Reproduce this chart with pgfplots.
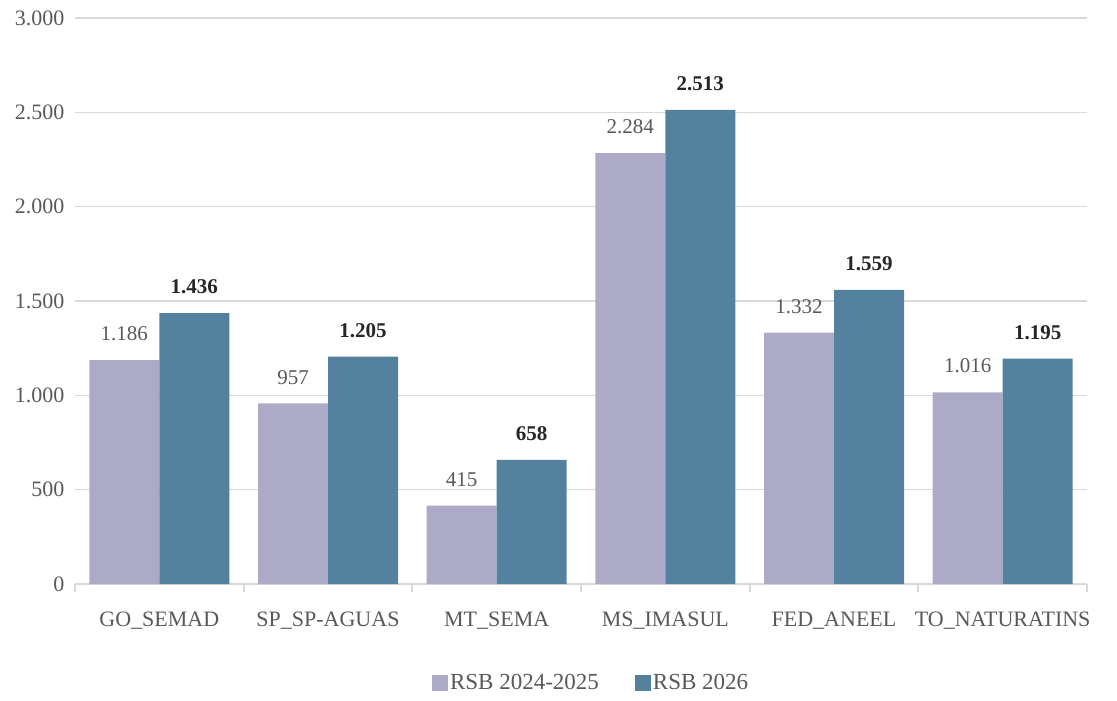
\documentclass[border=0pt]{standalone}
\usepackage{fontspec}
\setmainfont{Liberation Serif}
\usepackage{pgfplots}
\pgfplotsset{compat=1.18}
\definecolor{lila}{HTML}{ADAAC8}
\definecolor{azul}{HTML}{54829E}
\definecolor{txt}{HTML}{595959}
\definecolor{grd}{HTML}{D9D9D9}

\begin{document}
\begin{tikzpicture}
\begin{axis}[
    name=ax,
    scale only axis,
    width=506pt, height=283pt,
    xmin=-0.5, xmax=5.5,
    ymin=0, ymax=3000,
    ytick={0,500,...,3000},
    xtick={0,...,5},
    xticklabels={GO\_SEMAD, SP\_SP-AGUAS, MT\_SEMA, MS\_IMASUL, FED\_ANEEL, TO\_NATURATINS},
    minor xtick={-0.5,0.5,...,5.5},
    major x tick style={draw=none},
    minor x tick style={grd, line width=1pt},
    ytick style={draw=none},
    minor tick length=4pt,
    tick align=outside,
    axis x line*=bottom,
    axis y line*=left,
    x axis line style={grd, line width=1pt},
    y axis line style={draw=none},
    ymajorgrids,
    grid style={grd, line width=0.6pt},
    tick label style={txt},
    xticklabel style={font=\fontsize{11}{13}\selectfont, yshift=-6pt},
    yticklabel style={font=\fontsize{11}{13}\selectfont, xshift=2.5pt},
    /pgf/number format/.cd, 1000 sep={.}, assume math mode=true,
    /pgfplots/.cd,
    legend style={at={(0.51,-0.175)}, anchor=center, draw=none,
        font=\fontsize{11.5}{13}\selectfont, text=txt,
        nodes={inner xsep=1pt},
        /tikz/every odd column/.append style={column sep=0pt},
        /tikz/every even column/.append style={column sep=17pt}},
    legend columns=2,
    legend image code/.code={\fill[#1] (0pt,-3.8pt) rectangle (8pt,3.8pt);},
]
% RSB 2024-2025
\addplot[ybar, bar width=35pt, bar shift=-17.5pt, fill=lila, draw=none,
    nodes near coords,
    every node near coord/.append style={txt, font=\fontsize{10.5}{12}\selectfont, xshift=-17.5pt, yshift=6pt}]
coordinates {
    (0,1186) (1,957) (2,415) (3,2284) (4,1332) (5,1016)
};
\addlegendentry{RSB 2024-2025}

% RSB 2026
\addplot[ybar, bar width=35pt, bar shift=17.5pt, fill=azul, draw=none,
    nodes near coords,
    every node near coord/.append style={black!85, font=\bfseries\fontsize{10.5}{12}\selectfont, xshift=17.5pt, yshift=6pt}]
coordinates {
    (0,1436) (1,1205) (2,658) (3,2513) (4,1559) (5,1195)
};
\addlegendentry{RSB 2026}
\end{axis}
\path[use as bounding box] ([xshift=-37.5pt,yshift=-55pt]ax.south west) rectangle ([xshift=15pt,yshift=9pt]ax.north east);
\end{tikzpicture}
\end{document}
